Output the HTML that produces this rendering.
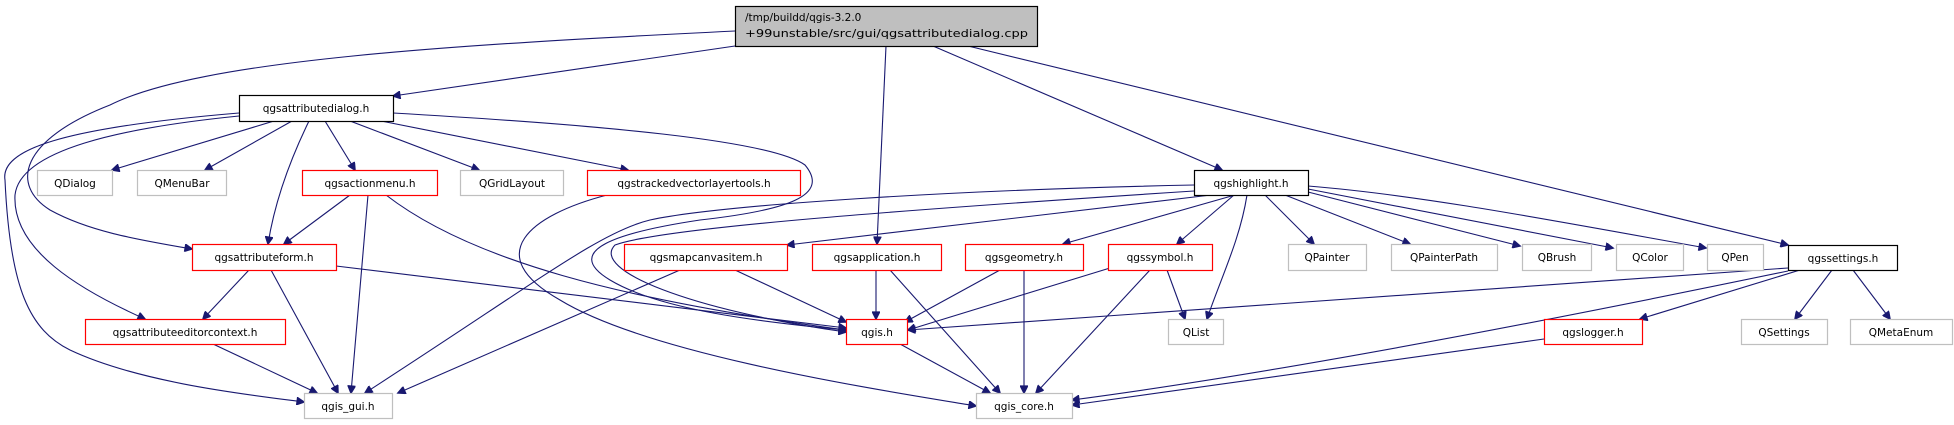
<!DOCTYPE html>
<html><head><meta charset="utf-8"><style>
html,body{margin:0;padding:0;background:#fff}
svg{display:block}
text{font-family:"DejaVu Sans","Liberation Sans",sans-serif;font-size:10.5px;fill:#000}
.e{fill:none;stroke:#191970;stroke-width:1.1}
</style></head><body>
<svg width="1954" height="425" viewBox="0 0 1954 425" xmlns="http://www.w3.org/2000/svg">
<defs><marker id="a" viewBox="0 0 10 10" refX="9" refY="5" markerWidth="10" markerHeight="8" markerUnits="userSpaceOnUse" orient="auto"><path d="M0,0 L10,5 L0,10 z" fill="#191970" stroke="#191970"/></marker></defs>
<g marker-end="url(#a)">
<path class="e" d="M735,46 L393,96"/>
<path class="e" d="M735,31 C450,45 200,60 110,105 C20,140 10,185 50,210 C90,232 140,240 192,249"/>
<path class="e" d="M886,46 L877,244"/>
<path class="e" d="M933,46 L1222,170"/>
<path class="e" d="M968,46 L1788,245"/>
<path class="e" d="M274,121 L112,170"/>
<path class="e" d="M292,121 L205,170"/>
<path class="e" d="M309,121 C290,160 275,200 268,244"/>
<path class="e" d="M325,121 L355,170"/>
<path class="e" d="M350,121 L479,170"/>
<path class="e" d="M381,121 L628,170"/>
<path class="e" d="M393,113 C600,125 770,140 805,165 C830,195 790,210 700,220 C620,232 560,250 610,280 C660,310 760,322 846,330"/>
<path class="e" d="M239,116 C120,128 20,150 15,195 C12,250 80,290 145,319"/>
<path class="e" d="M239,113 C60,128 0,150 5,180 C10,290 30,330 70,350 C140,383 250,395 304,402"/>
<path class="e" d="M350,195 L284,244"/>
<path class="e" d="M368,195 L351,393"/>
<path class="e" d="M386,195 C470,260 620,300 846,330"/>
<path class="e" d="M607,195 C530,215 480,255 560,300 C650,355 880,390 976,406"/>
<path class="e" d="M249,270 L203,319"/>
<path class="e" d="M271,270 L338,393"/>
<path class="e" d="M336,266 L846,328"/>
<path class="e" d="M213,344 L317,393"/>
<path class="e" d="M1194,185 C950,190 720,205 650,220 C600,232 540,280 365,393"/>
<path class="e" d="M1194,191 C900,210 660,228 615,245 C590,270 690,310 846,332"/>
<path class="e" d="M1211,195 L787,245"/>
<path class="e" d="M1235,195 L1063,244"/>
<path class="e" d="M1234,195 L1177,244"/>
<path class="e" d="M1247,195 C1240,240 1220,280 1207,319"/>
<path class="e" d="M1265,195 L1314,244"/>
<path class="e" d="M1285,195 L1410,244"/>
<path class="e" d="M1308,192 L1520,246"/>
<path class="e" d="M1308,189 L1613,248"/>
<path class="e" d="M1308,186 C1420,195 1550,220 1706,248"/>
<path class="e" d="M680,270 L398,393"/>
<path class="e" d="M735,270 L846,322"/>
<path class="e" d="M876,270 L876,319"/>
<path class="e" d="M890,270 L1000,393"/>
<path class="e" d="M1000,270 L905,322"/>
<path class="e" d="M1024,270 L1024,393"/>
<path class="e" d="M1110,268 L908,330"/>
<path class="e" d="M1150,270 L1036,393"/>
<path class="e" d="M1167,270 L1185,319"/>
<path class="e" d="M900,344 L990,393"/>
<path class="e" d="M1788,268 L908,330"/>
<path class="e" d="M1788,271 C1600,310 1300,370 1072,400"/>
<path class="e" d="M1800,270 L1640,319"/>
<path class="e" d="M1832,270 L1795,319"/>
<path class="e" d="M1853,270 L1890,319"/>
<path class="e" d="M1544,339 L1072,405"/>
</g>
<g stroke-width="1.2">
<rect x="735.5" y="6.5" width="302" height="40" fill="#bfbfbf" stroke="#000"/>
<text x="745" y="21">/tmp/buildd/qgis-3.2.0</text>
<text x="745" y="37" textLength="283" lengthAdjust="spacingAndGlyphs">+99unstable/src/gui/qgsattributedialog.cpp</text>
</g>
<g fill="#fff" stroke-width="1.2">
<rect x="239.5" y="95.5" width="154" height="26" stroke="#000"/>
<rect x="1194.5" y="170.5" width="114" height="25" stroke="#000"/>
<rect x="1788.5" y="245.5" width="109" height="25" stroke="#000"/>
<rect x="37.5" y="170.5" width="75" height="25" stroke="#bfbfbf"/>
<rect x="137.5" y="170.5" width="89" height="25" stroke="#bfbfbf"/>
<rect x="302.5" y="170.5" width="135" height="25" stroke="#f00"/>
<rect x="460.5" y="170.5" width="103" height="25" stroke="#bfbfbf"/>
<rect x="587.5" y="170.5" width="213" height="25" stroke="#f00"/>
<rect x="192.5" y="244.5" width="144" height="26" stroke="#f00"/>
<rect x="624.5" y="244.5" width="163" height="26" stroke="#f00"/>
<rect x="812.5" y="244.5" width="129" height="26" stroke="#f00"/>
<rect x="965.5" y="244.5" width="118" height="26" stroke="#f00"/>
<rect x="1108.5" y="244.5" width="104" height="26" stroke="#f00"/>
<rect x="1288.5" y="244.5" width="78" height="26" stroke="#bfbfbf"/>
<rect x="1391.5" y="244.5" width="106" height="26" stroke="#bfbfbf"/>
<rect x="1522.5" y="244.5" width="69" height="26" stroke="#bfbfbf"/>
<rect x="1616.5" y="244.5" width="67" height="26" stroke="#bfbfbf"/>
<rect x="1707.5" y="244.5" width="56" height="26" stroke="#bfbfbf"/>
<rect x="85.5" y="319.5" width="200" height="25" stroke="#f00"/>
<rect x="846.5" y="319.5" width="61" height="25" stroke="#f00"/>
<rect x="1168.5" y="319.5" width="55" height="25" stroke="#bfbfbf"/>
<rect x="1544.5" y="319.5" width="98" height="25" stroke="#f00"/>
<rect x="1741.5" y="319.5" width="86" height="25" stroke="#bfbfbf"/>
<rect x="1850.5" y="319.5" width="102" height="25" stroke="#bfbfbf"/>
<rect x="304.5" y="393.5" width="88" height="25" stroke="#bfbfbf"/>
<rect x="976.5" y="393.5" width="96" height="25" stroke="#bfbfbf"/>
</g>
<g text-anchor="middle">
<text x="316" y="112">qgsattributedialog.h</text>
<text x="1251" y="187">qgshighlight.h</text>
<text x="1843" y="262">qgssettings.h</text>
<text x="75" y="187">QDialog</text>
<text x="182" y="187">QMenuBar</text>
<text x="370" y="187">qgsactionmenu.h</text>
<text x="512" y="187">QGridLayout</text>
<text x="694" y="187">qgstrackedvectorlayertools.h</text>
<text x="264" y="261">qgsattributeform.h</text>
<text x="706" y="261">qgsmapcanvasitem.h</text>
<text x="877" y="261">qgsapplication.h</text>
<text x="1024" y="261">qgsgeometry.h</text>
<text x="1160" y="261">qgssymbol.h</text>
<text x="1327" y="261">QPainter</text>
<text x="1444" y="261">QPainterPath</text>
<text x="1557" y="261">QBrush</text>
<text x="1650" y="261">QColor</text>
<text x="1735" y="261">QPen</text>
<text x="185" y="336">qgsattributeeditorcontext.h</text>
<text x="877" y="336">qgis.h</text>
<text x="1196" y="336">QList</text>
<text x="1593" y="336">qgslogger.h</text>
<text x="1784" y="336">QSettings</text>
<text x="1901" y="336">QMetaEnum</text>
<text x="348" y="410">qgis_gui.h</text>
<text x="1024" y="410">qgis_core.h</text>
</g>
</svg>
</body></html>
